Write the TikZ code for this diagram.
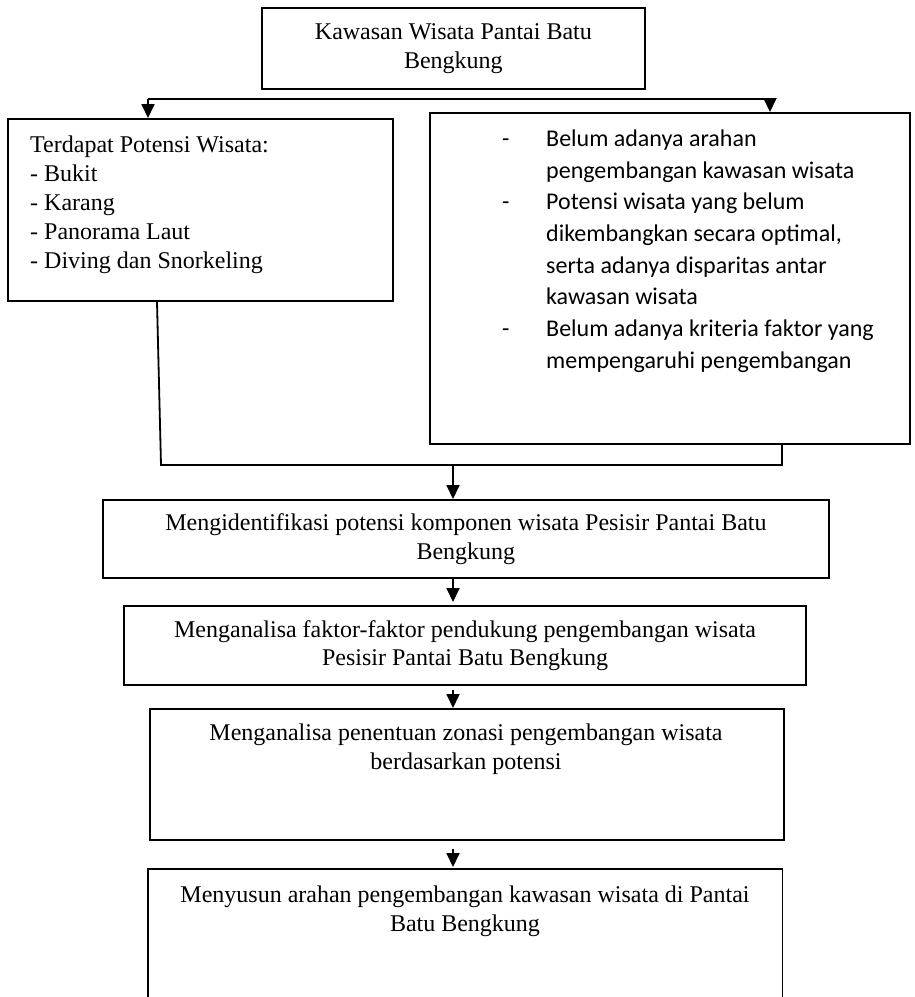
\documentclass[tikz,border=0pt]{standalone}
\usepackage{fontspec}
\setmainfont{Liberation Serif}
\newfontfamily\calfont{Carlito}
\usetikzlibrary{arrows.meta,calc}
\begin{document}
\begin{tikzpicture}[x=1pt,y=-1pt,
  box/.style={draw, line width=1.8pt, inner sep=0pt, anchor=north west, align=center, font=\fontsize{24}{28.8}\selectfont},
  plain/.style={inner sep=0pt, anchor=north west},
  arr/.style={line width=1.8pt, -{Triangle[length=14pt,width=13pt]}},
  conn/.style={line width=1.8pt},
  txt/.style={inner sep=0pt, font=\fontsize{24}{28.8}\selectfont}]
\useasboundingbox (0,0) rectangle (915,997);

% boxes
\node[box, minimum width=383pt, minimum height=81pt] (T) at (261,7) {Kawasan Wisata Pantai Batu\\Bengkung};
\node[box, minimum width=385pt, minimum height=182pt] (L) at (7,118) {};
\node[box, minimum width=480pt, minimum height=331pt] (R) at (429,112) {};
\node[box, minimum width=726pt, minimum height=78pt] (B3) at (102,499) {Mengidentifikasi potensi komponen wisata Pesisir Pantai Batu\\Bengkung};
\node[box, minimum width=682pt, minimum height=79pt, line width=2.2pt] (B4) at (123,605) {Menganalisa faktor-faktor pendukung pengembangan wisata\\Pesisir Pantai Batu Bengkung};
\node[box, minimum width=634pt, minimum height=131pt] (B5) at (149,708) {};
\node[plain, minimum width=634pt, minimum height=129pt] (B6) at (148,869) {};
\draw[conn] (B6.south west) -- (B6.north west) -- (B6.north east) -- (B6.south east);

% texts
\node[txt, anchor=north west, align=left, font=\fontsize{24}{29}\selectfont] (LT) at (30,135.3)
  {Terdapat Potensi Wisata:\\- Bukit\\- Karang\\- Panorama Laut\\- Diving dan Snorkeling};
\node[txt, anchor=north west, align=left, font=\calfont\fontsize{24}{31.7}\selectfont] (RT) at (502,129.5)
  {\makebox[44pt][l]{-}Belum adanya arahan\\
   \hspace*{44pt}pengembangan kawasan wisata\\
   \makebox[44pt][l]{-}Potensi wisata yang belum\\
   \hspace*{44pt}dikembangkan secara optimal,\\
   \hspace*{44pt}serta adanya disparitas antar\\
   \hspace*{44pt}kawasan wisata\\
   \makebox[44pt][l]{-}Belum adanya kriteria faktor yang\\
   \hspace*{44pt}mempengaruhi pengembangan};
\node[txt, anchor=north, align=center] (T5) at (466,723.6)
  {Menganalisa penentuan zonasi pengembangan wisata\\berdasarkan potensi};
\node[txt, anchor=north, align=center] (T6) at (465,885.6)
  {Menyusun arahan pengembangan kawasan wisata di Pantai\\Batu Bengkung};

% top split connector
\coordinate (hl) at (148,99);
\coordinate (hr) at (770,99);
\draw[conn] (hl) -- (hr);
\draw[arr] (hl) -- (hl |- L.north);
\draw[arr] (hr) -- (hr |- R.north);

% merge connector
\coordinate (jl) at (161,465);
\coordinate (jr) at (782,465);
\coordinate (jm) at (453,465);
\draw[conn] ($(L.south west)+(150,0)$) -- (jl) -- (jr) -- (jr |- R.south);
\draw[arr] (jm) -- (jm |- B3.north);

% vertical flow
\draw[arr] (jm |- B3.south) -- ($(jm |- B4.north)+(0,-3)$);
\draw[arr, shorten <=4pt] (jm |- B4.south) -- (jm |- B5.north);
\draw[arr, shorten <=8pt] (jm |- B5.south) -- ($(jm |- B6.north)+(0,-2)$);
\end{tikzpicture}
\end{document}
